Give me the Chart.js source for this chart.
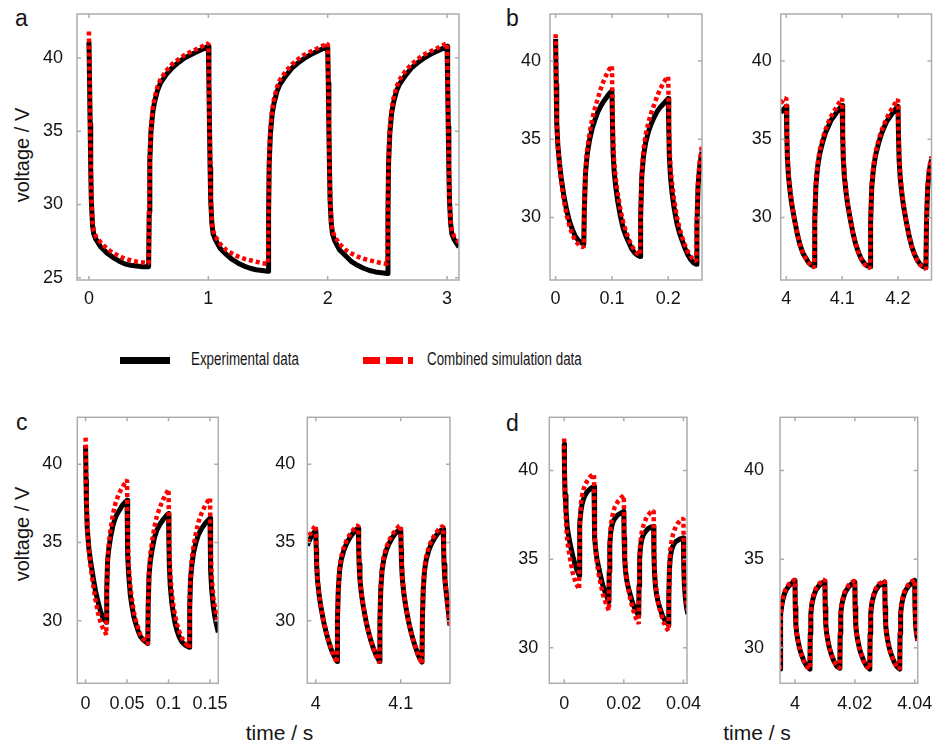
<!DOCTYPE html>
<html>
<head>
<meta charset="utf-8">
<script src="https://cdn.jsdelivr.net/npm/chart.js@4.4.1/dist/chart.umd.min.js"></script>
<style>
  html, body { margin: 0; padding: 0; background: #fff; }
  #fig { position: relative; width: 933px; height: 746px; overflow: hidden;
         font-family: "Liberation Sans", Arial, sans-serif; color: #151515; }
  #fig canvas { position: absolute; left: 0; top: 0; }
  .letter { position: absolute; font-size: 23px; line-height: 23px; }
  .ytitle { position: absolute; font-size: 20px; line-height: 20px; white-space: nowrap;
            transform: translate(-50%, -50%) rotate(-90deg); }
  .xtitle { position: absolute; font-size: 21px; line-height: 21px; white-space: nowrap;
            transform: translateX(-50%); }
  .legtext { position: absolute; font-size: 17.5px; line-height: 18px; white-space: nowrap;
             transform: scaleX(0.765); transform-origin: left center; }
  .swatch { position: absolute; height: 7px; }
</style>
</head>
<body>
<div id="fig">
  <div class="letter" style="left:15px; top:7px;">a</div>
  <div class="letter" style="left:506px; top:7px;">b</div>
  <div class="letter" style="left:16px; top:411px;">c</div>
  <div class="letter" style="left:506px; top:412px;">d</div>

  <div class="ytitle" style="left:21.5px; top:155px;">voltage / V</div>
  <div class="ytitle" style="left:21.5px; top:534px;">voltage / V</div>
  <div class="xtitle" style="left:279.5px; top:722px;">time / s</div>
  <div class="xtitle" style="left:757px; top:722px;">time / s</div>

  <div class="swatch" style="left:120px; top:357px; width:50px; background:#000;"></div>
  <div class="legtext" style="left:190.5px; top:350px;">Experimental data</div>
  <div class="swatch" style="left:363px; top:357px; width:50px;
       background:repeating-linear-gradient(to right,#ff0000 0 17px,transparent 17px 22.7px);"></div>
  <div class="legtext" style="left:426.5px; top:350px;">Combined simulation data</div>
</div>
<script>
// ---- panel a : 1 Hz switching, 0 .. 3.1 s ----
const timeA = [
  0, 0.005, 0.01, 0.015, 0.02, 0.03, 0.04, 0.06, 0.1, 0.15, 0.2, 0.25, 0.3, 0.35, 0.4, 0.45,
  0.5, 0.505, 0.51, 0.52, 0.535, 0.55, 0.575, 0.6, 0.65, 0.7, 0.75, 0.8, 0.85, 0.9, 0.95,
  1.0, 1.005, 1.01, 1.015, 1.02, 1.03, 1.04, 1.06, 1.1, 1.15, 1.2, 1.25, 1.3, 1.35, 1.4, 1.45,
  1.5, 1.505, 1.51, 1.52, 1.535, 1.55, 1.575, 1.6, 1.65, 1.7, 1.75, 1.8, 1.85, 1.9, 1.95,
  2.0, 2.005, 2.01, 2.015, 2.02, 2.03, 2.04, 2.06, 2.1, 2.15, 2.2, 2.25, 2.3, 2.35, 2.4, 2.45,
  2.5, 2.505, 2.51, 2.52, 2.535, 2.55, 2.575, 2.6, 2.65, 2.7, 2.75, 2.8, 2.85, 2.9, 2.95,
  3.0, 3.005, 3.01, 3.015, 3.02, 3.03, 3.04, 3.06, 3.1
];
const expA = [
  41.1, 38.5, 35.5, 32.5, 30.3, 28.6, 28.0, 27.6, 27.1, 26.7, 26.4, 26.15, 25.95, 25.85, 25.8, 25.75,
  25.75, 29.5, 33.0, 35.0, 36.3, 37.0, 37.8, 38.3, 38.9, 39.35, 39.7, 40.0, 40.2, 40.4, 40.6,
  40.8, 38.3, 35.3, 32.5, 30.3, 28.7, 28.0, 27.6, 27.0, 26.6, 26.25, 26.0, 25.8, 25.65, 25.55, 25.5,
  25.45, 29.3, 32.8, 34.8, 36.2, 36.9, 37.7, 38.2, 38.8, 39.3, 39.65, 39.95, 40.2, 40.4, 40.6,
  40.8, 38.3, 35.3, 32.5, 30.3, 28.7, 28.0, 27.5, 26.9, 26.5, 26.1, 25.85, 25.65, 25.5, 25.4, 25.35,
  25.3, 29.3, 32.8, 34.8, 36.2, 36.9, 37.7, 38.2, 38.8, 39.3, 39.65, 39.95, 40.2, 40.4, 40.6,
  40.8, 38.3, 35.3, 32.5, 30.3, 28.7, 28.0, 27.6, 27.1
];
const simA = [
  41.8, 39.0, 35.8, 32.7, 30.5, 28.8, 28.2, 27.8, 27.4, 27.0, 26.7, 26.5, 26.3, 26.2, 26.1, 26.05,
  26.0, 29.8, 33.3, 35.3, 36.6, 37.3, 38.05, 38.55, 39.15, 39.6, 39.9, 40.2, 40.4, 40.6, 40.8,
  41.0, 38.6, 35.6, 32.7, 30.5, 28.8, 28.2, 27.8, 27.3, 26.9, 26.65, 26.45, 26.3, 26.2, 26.1, 26.0,
  25.95, 29.7, 33.2, 35.2, 36.5, 37.2, 38.0, 38.5, 39.1, 39.55, 39.9, 40.2, 40.4, 40.6, 40.8,
  41.0, 38.6, 35.6, 32.7, 30.5, 28.8, 28.2, 27.8, 27.3, 26.9, 26.65, 26.45, 26.3, 26.2, 26.1, 26.0,
  25.95, 29.7, 33.2, 35.2, 36.5, 37.2, 38.0, 38.5, 39.1, 39.55, 39.9, 40.2, 40.4, 40.6, 40.8,
  41.0, 38.6, 35.6, 32.7, 30.5, 28.8, 28.2, 27.8, 27.4
];

// ---- panel b : 10 Hz, start and after 4 s ----
const timeB1 = [
  0, 0.001, 0.002, 0.004, 0.007, 0.01, 0.015, 0.02, 0.025, 0.03, 0.035, 0.04, 0.045,
  0.05, 0.051, 0.053, 0.056, 0.06, 0.065, 0.07, 0.075, 0.08, 0.085, 0.09, 0.095,
  0.1, 0.101, 0.102, 0.104, 0.107, 0.11, 0.115, 0.12, 0.125, 0.13, 0.135, 0.14, 0.145,
  0.15, 0.151, 0.153, 0.156, 0.16, 0.165, 0.17, 0.175, 0.18, 0.185, 0.19, 0.195,
  0.2, 0.201, 0.202, 0.204, 0.207, 0.21, 0.215, 0.22, 0.225, 0.23, 0.235, 0.24, 0.245,
  0.25, 0.251, 0.253, 0.256, 0.26
];
const expB1 = [
  41.4, 38.5, 36.0, 34.6, 33.4, 32.5, 31.3, 30.4, 29.7, 29.2, 28.8, 28.55, 28.4,
  28.3, 30.5, 32.8, 34.0, 34.9, 35.7, 36.25, 36.75, 37.1, 37.4, 37.65, 37.9,
  38.1, 36.0, 34.2, 32.9, 31.9, 31.1, 30.1, 29.3, 28.8, 28.4, 28.0, 27.75, 27.6,
  27.5, 30.0, 32.6, 33.9, 34.8, 35.5, 36.0, 36.4, 36.75, 37.0, 37.2, 37.4,
  37.6, 35.6, 33.9, 32.6, 31.5, 30.7, 29.7, 29.0, 28.5, 28.0, 27.6, 27.3, 27.1,
  27.0, 29.5, 32.0, 33.3, 34.2
];
const simB1 = [
  41.7, 38.8, 36.2, 34.6, 33.3, 32.3, 31.0, 30.1, 29.4, 28.9, 28.5, 28.3, 28.15,
  28.1, 30.6, 33.0, 34.3, 35.3, 36.3, 37.0, 37.6, 38.2, 38.7, 39.1, 39.45,
  39.7, 37.0, 35.0, 33.5, 32.4, 31.6, 30.5, 29.7, 29.1, 28.6, 28.2, 27.9, 27.7,
  27.6, 30.2, 32.9, 34.3, 35.3, 36.1, 36.7, 37.2, 37.7, 38.15, 38.5, 38.8,
  39.0, 36.6, 34.7, 33.2, 32.1, 31.2, 30.1, 29.3, 28.7, 28.2, 27.8, 27.5, 27.3,
  27.2, 29.8, 32.3, 33.6, 34.6
];
const timeB2 = [
  3.99, 3.995,
  4.0, 4.001, 4.002, 4.004, 4.007, 4.01, 4.015, 4.02, 4.025, 4.03, 4.035, 4.04, 4.045,
  4.05, 4.051, 4.053, 4.056, 4.06, 4.065, 4.07, 4.075, 4.08, 4.085, 4.09, 4.095,
  4.1, 4.101, 4.102, 4.104, 4.107, 4.11, 4.115, 4.12, 4.125, 4.13, 4.135, 4.14, 4.145,
  4.15, 4.151, 4.153, 4.156, 4.16, 4.165, 4.17, 4.175, 4.18, 4.185, 4.19, 4.195,
  4.2, 4.201, 4.202, 4.204, 4.207, 4.21, 4.215, 4.22, 4.225, 4.23, 4.235, 4.24, 4.245,
  4.25, 4.251, 4.253, 4.256, 4.26
];
const expB2 = [
  36.7, 36.9,
  37.1, 35.2, 33.8, 32.6, 31.6, 30.8, 29.8, 28.9, 28.2, 27.7, 27.4, 27.1, 26.95,
  26.9, 29.8, 32.0, 33.2, 34.1, 34.8, 35.4, 35.8, 36.2, 36.45, 36.7, 36.95,
  37.15, 35.2, 33.8, 32.6, 31.6, 30.8, 29.8, 28.9, 28.2, 27.7, 27.3, 27.05, 26.9,
  26.85, 29.7, 31.9, 33.1, 34.0, 34.7, 35.3, 35.75, 36.15, 36.4, 36.65, 36.9,
  37.1, 35.1, 33.7, 32.5, 31.5, 30.7, 29.7, 28.8, 28.1, 27.6, 27.25, 27.0, 26.85,
  26.8, 29.6, 31.8, 33.0, 33.7
];
const simB2 = [
  37.3, 37.5,
  37.65, 35.6, 34.1, 32.8, 31.7, 30.9, 29.8, 28.9, 28.2, 27.7, 27.35, 27.1, 26.9,
  26.8, 30.0, 32.2, 33.4, 34.3, 35.0, 35.6, 36.05, 36.45, 36.75, 37.05, 37.35,
  37.6, 35.6, 34.1, 32.8, 31.7, 30.9, 29.8, 28.9, 28.2, 27.7, 27.3, 27.0, 26.85,
  26.75, 29.9, 32.1, 33.3, 34.2, 34.9, 35.5, 35.95, 36.35, 36.7, 37.0, 37.3,
  37.55, 35.5, 34.0, 32.7, 31.6, 30.8, 29.7, 28.8, 28.1, 27.6, 27.2, 26.95, 26.8,
  26.7, 29.9, 32.0, 33.2, 33.9
];

// ---- panel c : 20 Hz, start and after 4 s ----
const timeC1 = [
  0, 0.0005, 0.001, 0.002, 0.004, 0.006, 0.008, 0.01, 0.012, 0.015, 0.018, 0.021,
  0.025, 0.0255, 0.0265, 0.028, 0.03, 0.033, 0.036, 0.04, 0.044, 0.048,
  0.05, 0.0505, 0.051, 0.052, 0.054, 0.056, 0.058, 0.06, 0.063, 0.066, 0.07,
  0.075, 0.0755, 0.0765, 0.078, 0.08, 0.083, 0.086, 0.09, 0.094, 0.098,
  0.1, 0.1005, 0.101, 0.102, 0.104, 0.106, 0.108, 0.11, 0.113, 0.116, 0.12,
  0.125, 0.1255, 0.1265, 0.128, 0.13, 0.133, 0.136, 0.14, 0.144, 0.148,
  0.15, 0.1505, 0.151, 0.152, 0.154, 0.156, 0.158, 0.16
];
const expC1 = [
  41.2, 39.0, 37.5, 35.9, 34.6, 33.8, 33.15, 32.5, 31.9, 31.2, 30.6, 30.2,
  29.9, 32.0, 33.8, 34.6, 35.3, 36.1, 36.6, 37.0, 37.35, 37.6,
  37.7, 35.5, 34.2, 32.9, 31.6, 30.9, 30.3, 29.9, 29.4, 29.0, 28.75,
  28.55, 31.0, 32.9, 33.8, 34.5, 35.3, 35.8, 36.2, 36.5, 36.75,
  36.85, 34.8, 33.5, 32.3, 31.1, 30.4, 29.8, 29.4, 28.95, 28.65, 28.45,
  28.3, 30.8, 32.6, 33.5, 34.3, 35.0, 35.5, 35.9, 36.2, 36.45,
  36.55, 34.5, 33.2, 32.0, 30.9, 30.2, 29.7, 29.25
];
const simC1 = [
  41.7, 39.4, 37.8, 36.0, 34.5, 33.5, 32.7, 32.0, 31.3, 30.5, 29.9, 29.5,
  29.1, 31.8, 33.9, 34.9, 35.8, 36.8, 37.5, 38.1, 38.5, 38.85,
  39.0, 36.5, 35.0, 33.5, 32.1, 31.3, 30.6, 30.1, 29.6, 29.1, 28.8,
  28.5, 31.1, 33.1, 34.2, 35.0, 36.0, 36.7, 37.3, 37.8, 38.2,
  38.4, 36.0, 34.5, 33.0, 31.7, 30.9, 30.3, 29.8, 29.3, 28.9, 28.6,
  28.25, 30.9, 32.8, 33.9, 34.7, 35.6, 36.3, 36.9, 37.35, 37.7,
  37.85, 35.6, 34.2, 32.8, 31.5, 30.8, 30.3, 29.8
];
const timeC2 = [
  3.99, 3.993, 3.996,
  4.0, 4.0005, 4.001, 4.002, 4.004, 4.006, 4.009, 4.012, 4.015, 4.018, 4.021,
  4.025, 4.0255, 4.0265, 4.028, 4.03, 4.033, 4.036, 4.04, 4.044, 4.048,
  4.05, 4.0505, 4.051, 4.052, 4.054, 4.056, 4.059, 4.062, 4.065, 4.068, 4.071,
  4.075, 4.0755, 4.0765, 4.078, 4.08, 4.083, 4.086, 4.09, 4.094, 4.098,
  4.1, 4.1005, 4.101, 4.102, 4.104, 4.106, 4.109, 4.112, 4.115, 4.118, 4.121,
  4.125, 4.1255, 4.1265, 4.128, 4.13, 4.133, 4.136, 4.14, 4.144, 4.148,
  4.15, 4.1505, 4.151, 4.152, 4.154, 4.156, 4.158, 4.16
];
const expC2 = [
  34.8, 35.2, 35.5,
  35.8, 34.6, 33.6, 32.6, 31.6, 30.9, 30.0, 29.3, 28.7, 28.2, 27.8,
  27.4, 30.0, 32.0, 33.2, 33.9, 34.5, 34.9, 35.3, 35.6, 35.85,
  35.9, 34.6, 33.6, 32.6, 31.6, 30.9, 30.0, 29.3, 28.7, 28.2, 27.8,
  27.4, 30.0, 32.0, 33.2, 33.9, 34.5, 34.9, 35.3, 35.6, 35.8,
  35.85, 34.6, 33.6, 32.6, 31.6, 30.9, 30.0, 29.3, 28.7, 28.2, 27.75,
  27.35, 30.0, 32.0, 33.2, 33.9, 34.5, 34.9, 35.3, 35.6, 35.8,
  35.85, 34.6, 33.6, 32.6, 31.6, 30.6, 29.7, 29.0
];
const simC2 = [
  35.0, 35.5, 35.8,
  36.1, 34.8, 33.8, 32.7, 31.6, 30.9, 30.0, 29.3, 28.7, 28.2, 27.75,
  27.3, 30.2, 32.2, 33.4, 34.1, 34.7, 35.1, 35.5, 35.8, 36.05,
  36.1, 34.8, 33.8, 32.7, 31.6, 30.9, 30.0, 29.3, 28.7, 28.2, 27.75,
  27.3, 30.2, 32.2, 33.4, 34.1, 34.7, 35.1, 35.5, 35.8, 36.05,
  36.1, 34.8, 33.8, 32.7, 31.6, 30.9, 30.0, 29.3, 28.7, 28.2, 27.7,
  27.25, 30.2, 32.2, 33.4, 34.1, 34.7, 35.1, 35.5, 35.8, 36.0,
  36.05, 34.8, 33.8, 32.7, 31.6, 30.6, 29.7, 29.0
];

// ---- panel d : 100 Hz, start and after 4 s ----
const timeD1 = [
  0, 0.0001, 0.0003, 0.0006, 0.001, 0.0015, 0.002, 0.003, 0.004,
  0.005, 0.0051, 0.0053, 0.0056, 0.006, 0.0065, 0.007, 0.0075, 0.008, 0.009,
  0.01, 0.0101, 0.0103, 0.0106, 0.011, 0.0115, 0.012, 0.013, 0.014,
  0.015, 0.0151, 0.0153, 0.0156, 0.016, 0.0165, 0.017, 0.0175, 0.018, 0.019,
  0.02, 0.0201, 0.0203, 0.0206, 0.021, 0.0215, 0.022, 0.023, 0.024,
  0.025, 0.0251, 0.0253, 0.0256, 0.026, 0.0265, 0.027, 0.0275, 0.028, 0.029,
  0.03, 0.0301, 0.0303, 0.0306, 0.031, 0.0315, 0.032, 0.033, 0.034,
  0.035, 0.0351, 0.0353, 0.0356, 0.036, 0.0365, 0.037, 0.0375, 0.038, 0.039,
  0.04, 0.0401, 0.0403, 0.0406, 0.041, 0.0415
];
const expD1 = [
  41.5, 40.0, 38.6, 37.8, 36.8, 36.3, 35.85, 35.1, 34.5,
  34.1, 35.5, 37.0, 37.7, 38.1, 38.4, 38.6, 38.75, 38.85, 39.0,
  39.1, 37.5, 36.2, 35.5, 35.0, 34.6, 34.2, 33.5, 33.0,
  32.6, 34.3, 35.8, 36.5, 36.9, 37.15, 37.3, 37.4, 37.5, 37.6,
  37.7, 36.2, 35.0, 34.3, 33.8, 33.4, 33.1, 32.5, 32.1,
  31.8, 33.5, 35.0, 35.7, 36.1, 36.35, 36.5, 36.6, 36.7, 36.8,
  36.85, 35.3, 34.2, 33.5, 33.0, 32.6, 32.3, 31.8, 31.5,
  31.3, 32.9, 34.4, 35.1, 35.5, 35.75, 35.9, 36.0, 36.05, 36.15,
  36.2, 34.7, 33.6, 32.9, 32.3, 31.9
];
const simD1 = [
  41.8, 40.0, 38.3, 37.2, 36.1, 35.5, 35.0, 34.1, 33.6,
  33.3, 35.3, 37.2, 38.1, 38.6, 38.95, 39.2, 39.35, 39.5, 39.7,
  39.8, 37.9, 36.3, 35.4, 34.8, 34.2, 33.8, 33.0, 32.5,
  32.1, 34.0, 35.9, 36.8, 37.3, 37.7, 37.95, 38.1, 38.25, 38.45,
  38.6, 36.8, 35.3, 34.4, 33.8, 33.3, 32.9, 32.2, 31.7,
  31.35, 33.2, 35.1, 36.0, 36.5, 36.85, 37.1, 37.3, 37.45, 37.65,
  37.75, 36.0, 34.6, 33.7, 33.1, 32.6, 32.2, 31.6, 31.2,
  30.95, 32.7, 34.6, 35.5, 36.0, 36.4, 36.65, 36.85, 37.0, 37.2,
  37.3, 35.5, 34.2, 33.3, 32.6, 32.1
];
const timeD2 = [
  3.995, 3.9951, 3.9953, 3.9956, 3.996, 3.9965, 3.997, 3.998, 3.999,
  4.0, 4.0001, 4.0003, 4.0006, 4.001, 4.0015, 4.002, 4.003, 4.004,
  4.005, 4.0051, 4.0053, 4.0056, 4.006, 4.0065, 4.007, 4.008, 4.009,
  4.01, 4.0101, 4.0103, 4.0106, 4.011, 4.0115, 4.012, 4.013, 4.014,
  4.015, 4.0151, 4.0153, 4.0156, 4.016, 4.0165, 4.017, 4.018, 4.019,
  4.02, 4.0201, 4.0203, 4.0206, 4.021, 4.0215, 4.022, 4.023, 4.024,
  4.025, 4.0251, 4.0253, 4.0256, 4.026, 4.0265, 4.027, 4.028, 4.029,
  4.03, 4.0301, 4.0303, 4.0306, 4.031, 4.0315, 4.032, 4.033, 4.034,
  4.035, 4.0351, 4.0353, 4.0356, 4.036, 4.0365, 4.037, 4.038, 4.039,
  4.04, 4.0401, 4.0403, 4.0406, 4.041, 4.0415
];
const expD2 = [
  28.8, 30.8, 31.9, 32.4, 32.75, 33.05, 33.25, 33.5, 33.65,
  33.8, 32.3, 31.3, 30.8, 30.4, 30.0, 29.7, 29.25, 28.95,
  28.8, 30.8, 31.9, 32.4, 32.75, 33.05, 33.25, 33.5, 33.65,
  33.75, 32.3, 31.3, 30.8, 30.4, 30.0, 29.7, 29.25, 28.95,
  28.85, 30.8, 31.9, 32.4, 32.7, 33.0, 33.2, 33.45, 33.6,
  33.7, 32.3, 31.3, 30.8, 30.4, 30.0, 29.7, 29.25, 28.95,
  28.8, 30.8, 31.9, 32.4, 32.75, 33.05, 33.25, 33.5, 33.6,
  33.7, 32.3, 31.3, 30.8, 30.4, 30.0, 29.7, 29.25, 28.95,
  28.8, 30.8, 31.9, 32.4, 32.75, 33.05, 33.25, 33.5, 33.65,
  33.8, 32.3, 31.3, 30.8, 30.4, 30.0
];
const simD2 = [
  28.8, 30.9, 32.0, 32.5, 32.85, 33.15, 33.35, 33.6, 33.75,
  33.85, 32.3, 31.3, 30.8, 30.4, 30.0, 29.7, 29.25, 28.95,
  28.8, 30.9, 32.0, 32.5, 32.85, 33.15, 33.35, 33.6, 33.75,
  33.85, 32.3, 31.3, 30.8, 30.4, 30.0, 29.7, 29.25, 28.95,
  28.85, 30.9, 32.0, 32.5, 32.8, 33.1, 33.3, 33.55, 33.7,
  33.8, 32.3, 31.3, 30.8, 30.4, 30.0, 29.7, 29.25, 28.95,
  28.8, 30.9, 32.0, 32.5, 32.85, 33.15, 33.35, 33.6, 33.7,
  33.8, 32.3, 31.3, 30.8, 30.4, 30.0, 29.7, 29.25, 28.95,
  28.8, 30.9, 32.0, 32.5, 32.85, 33.15, 33.35, 33.6, 33.75,
  33.85, 32.3, 31.3, 30.8, 30.4, 30.0
];

// ---- axis ticks and labels ----
const xTicksA = [0, 1, 2, 3],            xLabelsA = ['0', '1', '2', '3'];
const xTicksB1 = [0, 0.1, 0.2],         xLabelsB1 = ['0', '0.1', '0.2'];
const xTicksB2 = [4, 4.1, 4.2],         xLabelsB2 = ['4', '4.1', '4.2'];
const xTicksC1 = [0, 0.05, 0.1, 0.15],  xLabelsC1 = ['0', '0.05', '0.1', '0.15'];
const xTicksC2 = [4, 4.1],              xLabelsC2 = ['4', '4.1'];
const xTicksD1 = [0, 0.02, 0.04],       xLabelsD1 = ['0', '0.02', '0.04'];
const xTicksD2 = [4, 4.02, 4.04],       xLabelsD2 = ['4', '4.02', '4.04'];
const yTicksA = [25, 30, 35, 40],       yLabelsA = ['25', '30', '35', '40'];
const yTicks = [30, 35, 40],            yLabels = ['30', '35', '40'];

// ---- drawing ----
const W = 933, H = 746, YW = 50, XH = 40;
const FONT = '"Liberation Sans", Arial, sans-serif';

// gnuplot-style grey frame with short inward ticks on all four sides
const framePlugin = {
  id: 'frame',
  afterDraw(chart) {
    const { ctx, chartArea: a, scales: { x, y } } = chart;
    ctx.save();
    ctx.strokeStyle = '#adadad';
    ctx.lineWidth = 1.5;
    ctx.beginPath();
    for (const t of x.ticks) {
      const px = x.getPixelForValue(t.value);
      ctx.moveTo(px, a.bottom); ctx.lineTo(px, a.bottom - 4);
      ctx.moveTo(px, a.top);    ctx.lineTo(px, a.top + 4);
    }
    for (const t of y.ticks) {
      const py = y.getPixelForValue(t.value);
      ctx.moveTo(a.left, py);  ctx.lineTo(a.left + 4, py);
      ctx.moveTo(a.right, py); ctx.lineTo(a.right - 4, py);
    }
    ctx.stroke();
    ctx.strokeRect(a.left, a.top, a.right - a.left, a.bottom - a.top);
    ctx.restore();
  }
};

function panel(box, xr, yr, xt, xl, yt, yl, time, exp, sim, xPad, yPad) {
  const cv = document.createElement('canvas');
  cv.width = W; cv.height = H;
  cv.style.width = W + 'px'; cv.style.height = H + 'px';
  document.getElementById('fig').appendChild(cv);
  const pts = v => time.map((t, i) => ({ x: t, y: v[i] }));
  new Chart(cv, {
    type: 'line',
    data: {
      datasets: [
        { label: 'Combined simulation data', data: pts(sim), borderColor: '#ff0000',
          borderWidth: 4.5, borderDash: [4, 3], borderCapStyle: 'butt',
          borderJoinStyle: 'bevel', pointRadius: 0, tension: 0, fill: false },
        { label: 'Experimental data', data: pts(exp), borderColor: '#000000',
          borderWidth: 5, borderJoinStyle: 'round', pointRadius: 0, tension: 0, fill: false }
      ]
    },
    options: {
      responsive: false, animation: false, devicePixelRatio: 1, events: [],
      layout: { padding: { left: box.l - YW, top: box.t, right: W - box.r, bottom: H - box.b - XH } },
      plugins: { legend: { display: false }, tooltip: { enabled: false } },
      scales: {
        x: {
          type: 'linear', min: xr[0], max: xr[1],
          afterBuildTicks: s => { s.ticks = xt.map(v => ({ value: v })); },
          afterFit: s => { s.height = XH; s.paddingLeft = 0; s.paddingRight = 0; },
          grid: { display: false, drawTicks: false }, border: { display: false },
          ticks: { padding: xPad, color: '#151515', maxRotation: 0, autoSkip: false,
                   font: { family: FONT, size: 18 }, callback: (v, i) => xl[i] }
        },
        y: {
          type: 'linear', min: yr[0], max: yr[1],
          afterBuildTicks: s => { s.ticks = yt.map(v => ({ value: v })); },
          afterFit: s => { s.width = YW; s.paddingTop = 0; s.paddingBottom = 0; },
          grid: { display: false, drawTicks: false }, border: { display: false },
          ticks: { padding: yPad, color: '#151515', autoSkip: false,
                   font: { family: FONT, size: 18 }, callback: (v, i) => yl[i] }
        }
      }
    },
    plugins: [framePlugin]
  });
}

panel({ l: 77, t: 14, r: 459, b: 280 }, [-0.1, 3.1], [24.85, 43], xTicksA, xLabelsA, yTicksA, yLabelsA, timeA, expA, simA, 8, 14);
panel({ l: 550, t: 14, r: 702, b: 280 }, [-0.01, 0.26], [26, 43], xTicksB1, xLabelsB1, yTicks, yLabels, timeB1, expB1, simB1, 8, 9);
panel({ l: 780.7, t: 14, r: 931.5, b: 280 }, [3.99, 4.26], [26, 43], xTicksB2, xLabelsB2, yTicks, yLabels, timeB2, expB2, simB2, 8, 9);
panel({ l: 77.3, t: 417.3, r: 218.3, b: 683.3 }, [-0.01, 0.16], [26, 43], xTicksC1, xLabelsC1, yTicks, yLabels, timeC1, expC1, simC1, 10, 15);
panel({ l: 307.3, t: 417.3, r: 450, b: 683.3 }, [3.99, 4.158], [26, 43], xTicksC2, xLabelsC2, yTicks, yLabels, timeC2, expC2, simC2, 10, 12);
panel({ l: 549.3, t: 417.3, r: 687, b: 683.3 }, [-0.005, 0.0412], [28, 43], xTicksD1, xLabelsD1, yTicks, yLabels, timeD1, expD1, simD1, 10, 11);
panel({ l: 780, t: 417.3, r: 917.7, b: 683.3 }, [3.995, 4.041], [28, 43], xTicksD2, xLabelsD2, yTicks, yLabels, timeD2, expD2, simD2, 10, 16);
</script>
</body>
</html>
